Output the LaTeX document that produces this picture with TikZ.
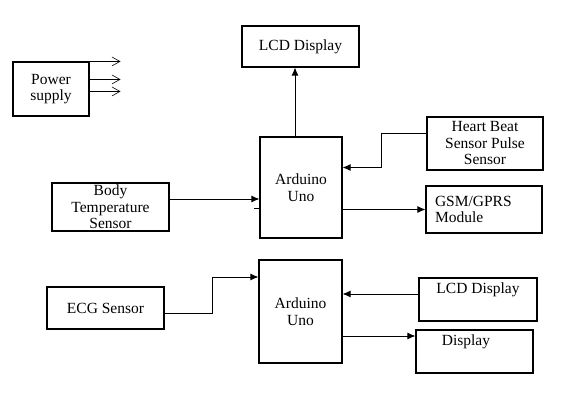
\documentclass[tikz,border=0pt]{standalone}
\usepackage{fontspec}
\setmainfont{Liberation Serif}
\usetikzlibrary{arrows.meta}

\begin{document}
\begin{tikzpicture}[x=1pt,y=-1pt,line width=1.1pt,
    font=\fontsize{15.5}{16.5}\selectfont,
    box/.style={draw,rectangle,inner sep=0pt,align=center},
    arr/.style={line width=0.9pt,-{Latex[length=8pt,width=7pt]}},
    barb/.style={line width=0.6pt,-{Straight Barb[length=8pt,width=9pt]}}]
        \useasboundingbox (0,0) rectangle (580,403);
        \node[box,minimum width=76,minimum height=54]  (power)  at (51,89)    {Power\\supply};
        \node[box,minimum width=117,minimum height=41] (lcdtop) at (300.5,46.5) {LCD Display};
        \node[box,minimum width=82,minimum height=101] (ardA)   at (301,187.5) {Arduino\\Uno};
        \node[box,minimum width=116,minimum height=53] (heart)  at (485,143.5) {Heart Beat\\Sensor Pulse\\Sensor};
        \node[box,minimum width=116,minimum height=47] (gsm)    at (484,209.5) {};
        \node[box,minimum width=117,minimum height=48] (body)   at (110.5,207) {Body\\Temperature\\Sensor};
        \node[box,minimum width=83,minimum height=103] (ardB)   at (300.5,311.5) {Arduino\\Uno};
        \node[box,minimum width=117,minimum height=42] (ecg)    at (105.5,308) {ECG Sensor};
        \node[box,minimum width=118,minimum height=43] (lcdB)   at (478,299.5) {};
        \node[box,minimum width=117,minimum height=43] (disp)   at (474.5,351.5) {};
        \node[anchor=west,align=left,inner sep=0pt] at ([xshift=9pt]gsm.west) {GSM/GPRS\\Module};
        \node[inner sep=0pt] at (478,290) {LCD Display};
        \node[inner sep=0pt] at (466,342) {Display};
        \draw[barb] (power.north east) -- ++(31,0);
        \draw[barb] ([yshift=-18pt]power.north east) -- ++(31,0);
        \draw[barb] ([yshift=-30pt]power.north east) -- ++(31,0);
        \draw[arr] ([xshift=-6pt]ardA.north) -- ([xshift=-6pt]ardA.north |- lcdtop.south);
        \draw[arr] ([yshift=10pt]heart.west) -- ++(-45,0) |- ([yshift=20pt]ardA.east);
        \draw[arr] (gsm.west -| ardA.east) -- (gsm.west);
        \draw[arr] ([yshift=8pt]body.east) -- ([yshift=8pt]body.east -| ardA.west);
        \draw ([yshift=-21pt]ardA.west) -- ++(-5,0);
        \draw[arr] ([yshift=-5pt]ecg.east) -- ++(48,0) |- ([yshift=34.5pt]ardB.west);
        \draw[arr] ([yshift=5.5pt]lcdB.west) -- ([yshift=5.5pt]lcdB.west -| ardB.east);
        \draw[arr] ([yshift=-24.5pt]ardB.east) -- ([yshift=-24.5pt]ardB.east -| disp.west);
\end{tikzpicture}
\end{document}
